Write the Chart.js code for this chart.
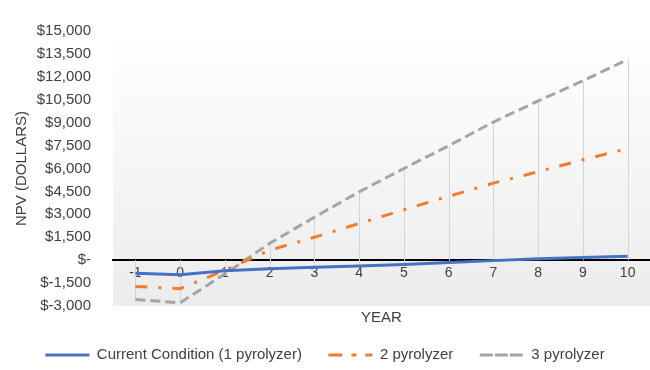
<!DOCTYPE html>
<html><head><meta charset="utf-8">
<script src="https://cdn.jsdelivr.net/npm/chart.js@4/dist/chart.umd.min.js"></script>
<style>html,body{margin:0;padding:0;background:#fff}#wrap{width:650px;height:370px}</style>
</head><body><div id="wrap"><canvas id="c" width="650" height="370"></canvas></div>
<script>
const years = ['-1','0','1','2','3','4','5','6','7','8','9','10'];
const currentCondition = [-850,-950,-700,-560,-470,-380,-280,-150,-30,90,180,260];
const twoPyrolyzer = [-1720,-1870,-650,650,1500,2400,3300,4180,5040,5790,6570,7300];
const threePyrolyzer = [-2570,-2790,-900,1100,2810,4470,6000,7490,9040,10420,11740,13130];
const yMin = -3000, yMax = 15000, yStep = 1500;
const seriesNames = ['Current Condition (1 pyrolyzer)','2 pyrolyzer','3 pyrolyzer'];

const FONT = 'Liberation Sans, Arial, sans-serif';
const TXT = '#404040';

const bgPlugin = {
  id: 'bgGrad',
  beforeDraw(chart) {
    const {ctx, chartArea: a} = chart;
    const g = ctx.createLinearGradient(0, a.top, 0, a.bottom);
    g.addColorStop(0, '#ffffff');
    g.addColorStop(1, '#ececec');
    ctx.save(); ctx.fillStyle = g;
    ctx.fillRect(a.left, a.top, a.right - a.left, a.bottom - a.top);
    ctx.restore();
  }
};
const dropPlugin = {
  id: 'dropLines',
  beforeDatasetsDraw(chart) {
    const {ctx, scales: {x, y}} = chart;
    const ds = chart.data.datasets;
    ctx.save();
    ctx.strokeStyle = '#d4d4d4'; ctx.lineWidth = 1;
    chart.data.labels.forEach((lab, i) => {
      const vals = ds.map(d => d.data[i]);
      const hi = Math.max(0, ...vals), lo = Math.min(0, ...vals);
      const px = Math.round(x.getPixelForValue(i)) + 0.5;
      ctx.beginPath();
      ctx.moveTo(px, y.getPixelForValue(hi));
      ctx.lineTo(px, y.getPixelForValue(lo));
      ctx.stroke();
    });
    ctx.restore();
  }
};

new Chart(document.getElementById('c'), {
  type: 'line',
  data: {
    labels: years,
    datasets: [
      {label: seriesNames[0], data: currentCondition, borderColor: '#4472C4', backgroundColor: '#4472C4', borderWidth: 3, pointRadius: 0, tension: 0},
      {label: seriesNames[1], data: twoPyrolyzer, borderColor: '#ED7D31', backgroundColor: '#ED7D31', borderWidth: 3, borderDash: [12, 11, 3, 11], pointRadius: 0, tension: 0},
      {label: seriesNames[2], data: threePyrolyzer, borderColor: '#A5A5A5', backgroundColor: '#A5A5A5', borderWidth: 3, borderDash: [10, 5], pointRadius: 0, tension: 0}
    ]
  },
  options: {
    responsive: false,
    animation: false,
    devicePixelRatio: 1,
    layout: {padding: {top: 24, left: 0, right: 0, bottom: -2.5}},
    scales: {
      x: {
        type: 'category',
        position: {y: 0},
        offset: true,
        grid: {display: true, color: 'rgba(0,0,0,0)', drawTicks: false, offset: true},
        border: {display: true, color: '#000000', width: 2},
        ticks: {padding: 5, color: TXT, font: {family: FONT, size: 14}, maxRotation: 0}
      },
      y: {
        position: 'left',
        min: yMin, max: yMax,
        afterFit(s) { s.width = 113; },
        grid: {display: false, drawTicks: false},
        border: {display: false},
        ticks: {
          stepSize: yStep, padding: 22, color: TXT, font: {family: FONT, size: 15},
          callback: v => v === 0 ? '$-' : (v < 0 ? '$-' + Math.abs(v).toLocaleString('en-US') : '$' + v.toLocaleString('en-US'))
        },
        title: {display: true, text: 'NPV (DOLLARS)', color: TXT, font: {family: FONT, size: 15}, padding: {top: 13, bottom: 0}}
      }
    },
    plugins: {
      title: {display: true, text: 'YEAR', position: 'bottom', fullSize: false, weight: 500, color: TXT,
        font: {family: FONT, size: 15, weight: 'normal', lineHeight: 1}, padding: {top: 4.5, bottom: -4.5}},
      legend: {position: 'bottom', labels: {boxWidth: 44, boxHeight: 0, padding: 26.5, color: TXT, font: {family: FONT, size: 15}}},
      tooltip: {enabled: false}
    }
  },
  plugins: [bgPlugin, dropPlugin]
});
</script>
</body></html>
